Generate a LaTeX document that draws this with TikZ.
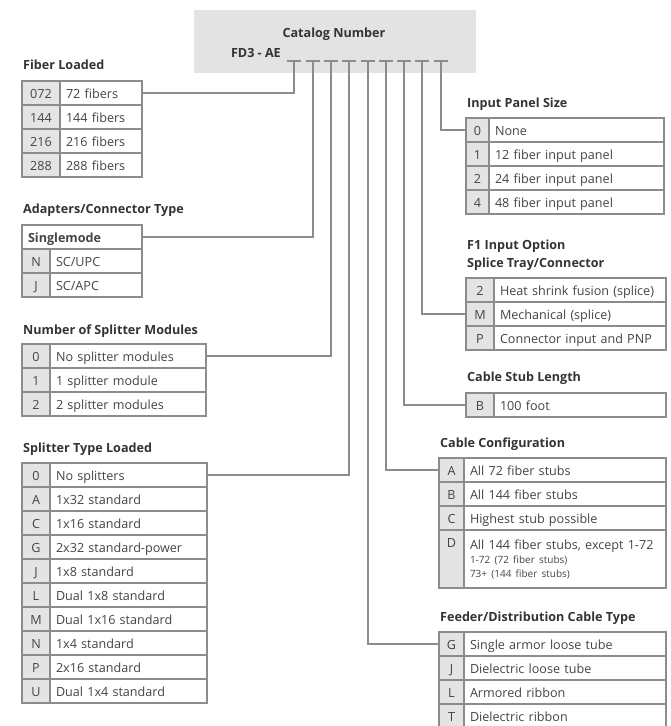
\documentclass[tikz,border=0pt]{standalone}
\usepackage{fontspec}
\setmainfont{Open Sans}
\usepackage{tikz}
\usetikzlibrary{positioning}

\definecolor{rulegray}{HTML}{8C8C8C}
\definecolor{codegray}{HTML}{E4E4E4}
\definecolor{hdrgray}{HTML}{E3E3E3}
\definecolor{txtgray}{HTML}{444444}

\begin{document}
\begin{tikzpicture}[x=1pt, y=-1pt,
  font=\fontsize{12.6}{15}\selectfont,
  cellbox/.style ={rectangle, draw=rulegray, line width=1.1pt,
                   inner ysep=0pt, inner xsep=6pt, outer sep=0pt,
                   text=txtgray},
  onerow/.style  ={minimum height=24pt, text height=17pt, text depth=7pt},
  codecell/.style={cellbox, onerow, fill=codegray, minimum width=#1,
                   inner xsep=0pt},
  itemcell/.style={cellbox, onerow, fill=white, text width=#1,
                   align=left},
  title/.style   ={anchor=base west, inner sep=0pt,
                   font=\fontsize{12.6}{15}\bfseries, text=black!80},
  feed/.style    ={draw=rulegray, line width=1.1pt},
]
\useasboundingbox (0,0) rectangle (671,726);

% === Catalog number header ===
\node[fill=hdrgray, anchor=north west, inner sep=0pt,
      minimum width=282pt, minimum height=63pt] (hdr) at (194,10) {};
\node[anchor=base, inner sep=0pt, font=\fontsize{12.6}{15}\bfseries,
      text=black!80] (catno) at (334,37) {Catalog Number};
\node[anchor=base east, inner sep=0pt, font=\fontsize{12.6}{15}\bfseries,
      text=black!80] (prefix) at (281,57) {FD3 - AE};

\foreach \i/\x in {1/294,2/313,3/331,4/349,5/368,6/386,7/404,8/422,9/441}{
  \coordinate (t\i) at (\x,61);
  \draw[feed] ([xshift=-7pt]t\i) -- ([xshift=7pt]t\i);
}

% === LEFT: Fiber Loaded ===
\node[title] (fibT) at (23,69) {Fiber Loaded};
\node[codecell=38pt, anchor=north west] (fib1c) at (22,81) {072};
\node[itemcell=70pt, right=0pt of fib1c] (fib1) {72 fibers};
\node[codecell=38pt, below=0pt of fib1c] (fib2c) {144};
\node[itemcell=70pt, right=0pt of fib2c] (fib2) {144 fibers};
\node[codecell=38pt, below=0pt of fib2c] (fib3c) {216};
\node[itemcell=70pt, right=0pt of fib3c] (fib3) {216 fibers};
\node[codecell=38pt, below=0pt of fib3c] (fib4c) {288};
\node[itemcell=70pt, right=0pt of fib4c] (fib4) {288 fibers};

% === LEFT: Adapters/Connector Type ===
\node[title] (adpT) at (23,213) {Adapters/Connector Type};
\node[cellbox, onerow, text width=108pt, align=left, anchor=north west,
      font=\fontsize{12.6}{15}\bfseries] (sm) at (22,225) {Singlemode};
\node[codecell=28pt, below right=0pt and 0pt of sm.south west] (adpNc) {N};
\node[itemcell=80pt, right=0pt of adpNc] (adpN) {SC/UPC};
\node[codecell=28pt, below=0pt of adpNc] (adpJc) {J};
\node[itemcell=80pt, right=0pt of adpJc] (adpJ) {SC/APC};

% === LEFT: Number of Splitter Modules ===
\node[title] (modT) at (23,334) {Number of Splitter Modules};
\node[codecell=28pt, anchor=north west] (mod0c) at (22,344) {0};
\node[itemcell=144pt, right=0pt of mod0c] (mod0) {No splitter modules};
\node[codecell=28pt, below=0pt of mod0c] (mod1c) {1};
\node[itemcell=144pt, right=0pt of mod1c] (mod1) {1 splitter module};
\node[codecell=28pt, below=0pt of mod1c] (mod2c) {2};
\node[itemcell=144pt, right=0pt of mod2c] (mod2) {2 splitter modules};

% === LEFT: Splitter Type Loaded ===
\node[title] (splT) at (23,452) {Splitter Type Loaded};
\node[codecell=28pt, anchor=north west] (spl0c) at (22,463) {0};
\node[itemcell=145pt, right=0pt of spl0c] (spl0) {No splitters};
\node[codecell=28pt, below=0pt of spl0c] (splAc) {A};
\node[itemcell=145pt, right=0pt of splAc] (splA) {1x32 standard};
\node[codecell=28pt, below=0pt of splAc] (splCc) {C};
\node[itemcell=145pt, right=0pt of splCc] (splC) {1x16 standard};
\node[codecell=28pt, below=0pt of splCc] (splGc) {G};
\node[itemcell=145pt, right=0pt of splGc] (splG) {2x32 standard-power};
\node[codecell=28pt, below=0pt of splGc] (splJc) {J};
\node[itemcell=145pt, right=0pt of splJc] (splJ) {1x8 standard};
\node[codecell=28pt, below=0pt of splJc] (splLc) {L};
\node[itemcell=145pt, right=0pt of splLc] (splL) {Dual 1x8 standard};
\node[codecell=28pt, below=0pt of splLc] (splMc) {M};
\node[itemcell=145pt, right=0pt of splMc] (splM) {Dual 1x16 standard};
\node[codecell=28pt, below=0pt of splMc] (splNc) {N};
\node[itemcell=145pt, right=0pt of splNc] (splN) {1x4 standard};
\node[codecell=28pt, below=0pt of splNc] (splPc) {P};
\node[itemcell=145pt, right=0pt of splPc] (splP) {2x16 standard};
\node[codecell=28pt, below=0pt of splPc] (splUc) {U};
\node[itemcell=145pt, right=0pt of splUc] (splU) {Dual 1x4 standard};

% === RIGHT: Input Panel Size ===
\node[title] (panT) at (467,107) {Input Panel Size};
\node[codecell=23pt, anchor=north west] (pan0c) at (466,118) {0};
\node[itemcell=163pt, right=0pt of pan0c] (pan0) {None};
\node[codecell=23pt, below=0pt of pan0c] (pan1c) {1};
\node[itemcell=163pt, right=0pt of pan1c] (pan1) {12 fiber input panel};
\node[codecell=23pt, below=0pt of pan1c] (pan2c) {2};
\node[itemcell=163pt, right=0pt of pan2c] (pan2) {24 fiber input panel};
\node[codecell=23pt, below=0pt of pan2c] (pan4c) {4};
\node[itemcell=163pt, right=0pt of pan4c] (pan4) {48 fiber input panel};

% === RIGHT: F1 Input Option ===
\node[title] (fopT) at (467,249) {F1 Input Option};
\node[title] (fopT2) at (467,267) {Splice Tray/Connector};
\node[codecell=28pt, anchor=north west] (fop2c) at (466,278) {2};
\node[itemcell=160pt, right=0pt of fop2c] (fop2) {Heat shrink fusion (splice)};
\node[codecell=28pt, below=0pt of fop2c] (fopMc) {M};
\node[itemcell=160pt, right=0pt of fopMc] (fopM) {Mechanical (splice)};
\node[codecell=28pt, below=0pt of fopMc] (fopPc) {P};
\node[itemcell=160pt, right=0pt of fopPc] (fopP) {Connector input and PNP};

% === RIGHT: Cable Stub Length ===
\node[title] (stubT) at (467,381) {Cable Stub Length};
\node[codecell=28pt, anchor=north west] (stubBc) at (466,393) {B};
\node[itemcell=160pt, right=0pt of stubBc] (stubB) {100 foot};

% === RIGHT: Cable Configuration ===
\node[title] (cfgT) at (440,447) {Cable Configuration};
\node[codecell=25pt, anchor=north west] (cfgAc) at (439,458) {A};
\node[itemcell=190pt, right=0pt of cfgAc] (cfgA) {All 72 fiber stubs};
\node[codecell=25pt, below=0pt of cfgAc] (cfgBc) {B};
\node[itemcell=190pt, right=0pt of cfgBc] (cfgB) {All 144 fiber stubs};
\node[codecell=25pt, below=0pt of cfgBc] (cfgCc) {C};
\node[itemcell=190pt, right=0pt of cfgCc] (cfgC) {Highest stub possible};
\node[codecell=25pt, minimum height=58pt, text depth=41pt,
      below=0pt of cfgCc] (cfgDc) {D};
\node[cellbox, minimum height=58pt, text width=190pt, align=left,
      right=0pt of cfgDc] (cfgD)
  {All 144 fiber stubs, except 1-72\\[-1pt]
   {\fontsize{10}{15}\selectfont 1-72 (72 fiber stubs)}\\[-1pt]
   {\fontsize{10}{15}\selectfont 73+ (144 fiber stubs)}};

% === RIGHT: Feeder/Distribution Cable Type ===
\node[title] (fdrT) at (440,621) {Feeder/Distribution Cable Type};
\node[codecell=25pt, anchor=north west] (fdrGc) at (439,632) {G};
\node[itemcell=190pt, right=0pt of fdrGc] (fdrG) {Single armor loose tube};
\node[codecell=25pt, below=0pt of fdrGc] (fdrJc) {J};
\node[itemcell=190pt, right=0pt of fdrJc] (fdrJ) {Dielectric loose tube};
\node[codecell=25pt, below=0pt of fdrJc] (fdrLc) {L};
\node[itemcell=190pt, right=0pt of fdrLc] (fdrL) {Armored ribbon};
\node[codecell=25pt, below=0pt of fdrLc] (fdrTc) {T};
\node[itemcell=190pt, right=0pt of fdrTc] (fdrTr) {Dielectric ribbon};

% === Feed lines: catalog position -> table ===
\draw[feed] (t1) |- (fib1.east);
\draw[feed] (t2) |- (sm.east);
\draw[feed] (t3) |- (mod0.east);
\draw[feed] (t4) |- (spl0.east);
\draw[feed] (t5) |- (fdrGc.west);
\draw[feed] (t6) |- (cfgAc.west);
\draw[feed] (t7) |- (stubBc.west);
\draw[feed] (t8) |- (fopMc.west);
\draw[feed] (t9) |- (pan0c.west);

\end{tikzpicture}
\end{document}
